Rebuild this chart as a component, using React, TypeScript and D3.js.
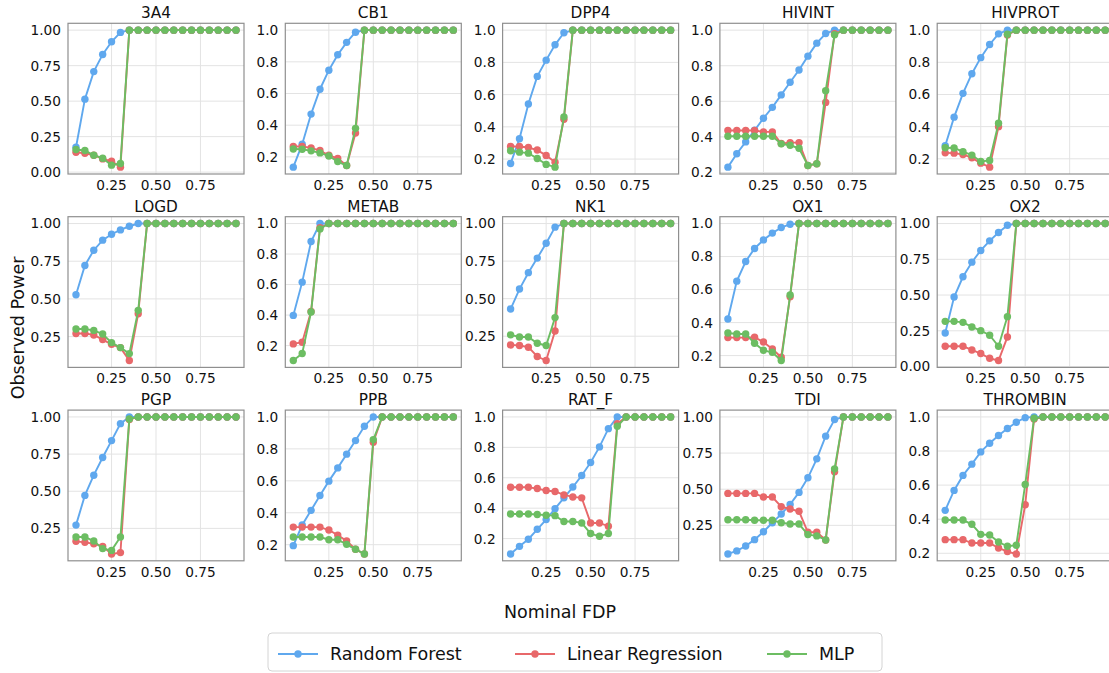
import React from "react";
import * as d3 from "d3";

// Nominal FDP levels shared by every panel
const fdp = [0.05, 0.1, 0.15, 0.2, 0.25, 0.3, 0.35, 0.4, 0.45, 0.5, 0.55, 0.6, 0.65, 0.7, 0.75, 0.8, 0.85, 0.9, 0.95];

const targets = ["3A4", "CB1", "DPP4", "HIVINT", "HIVPROT", "LOGD", "METAB", "NK1", "OX1", "OX2", "PGP", "PPB", "RAT_F", "TDI", "THROMBIN"];

// y tick spacing used by each panel
const yTickStep = [0.25, 0.2, 0.2, 0.2, 0.2, 0.25, 0.2, 0.25, 0.2, 0.25, 0.25, 0.2, 0.2, 0.25, 0.2];

const xTicks = [0.25, 0.5, 0.75];

const methods = ["Random Forest", "Linear Regression", "MLP"];
const methodColors = ["#5fa8ee", "#e8686a", "#6cbd62"];

// Observed power per target (rows follow `targets`), one value per FDP level
const randomForestPower = [
  [0.175, 0.514, 0.708, 0.829, 0.918, 0.984, 1, 1, 1, 1, 1, 1, 1, 1, 1, 1, 1, 1, 1],
  [0.135, 0.28, 0.47, 0.627, 0.747, 0.845, 0.923, 0.987, 1, 1, 1, 1, 1, 1, 1, 1, 1, 1, 1],
  [0.173, 0.326, 0.542, 0.713, 0.814, 0.909, 0.984, 1, 1, 1, 1, 1, 1, 1, 1, 1, 1, 1, 1],
  [0.23, 0.305, 0.372, 0.437, 0.505, 0.566, 0.636, 0.707, 0.776, 0.854, 0.927, 0.981, 1, 1, 1, 1, 1, 1, 1],
  [0.281, 0.459, 0.607, 0.729, 0.829, 0.911, 0.977, 1, 1, 1, 1, 1, 1, 1, 1, 1, 1, 1, 1],
  [0.528, 0.722, 0.823, 0.89, 0.929, 0.958, 0.982, 1, 1, 1, 1, 1, 1, 1, 1, 1, 1, 1, 1],
  [0.398, 0.616, 0.882, 1, 1, 1, 1, 1, 1, 1, 1, 1, 1, 1, 1, 1, 1, 1, 1],
  [0.431, 0.564, 0.673, 0.77, 0.869, 0.976, 1, 1, 1, 1, 1, 1, 1, 1, 1, 1, 1, 1, 1],
  [0.422, 0.651, 0.77, 0.849, 0.901, 0.942, 0.976, 0.996, 1, 1, 1, 1, 1, 1, 1, 1, 1, 1, 1],
  [0.235, 0.486, 0.628, 0.73, 0.812, 0.879, 0.937, 0.988, 1, 1, 1, 1, 1, 1, 1, 1, 1, 1, 1],
  [0.272, 0.472, 0.608, 0.727, 0.841, 0.955, 1, 1, 1, 1, 1, 1, 1, 1, 1, 1, 1, 1, 1],
  [0.194, 0.323, 0.415, 0.508, 0.598, 0.681, 0.767, 0.852, 0.942, 1, 1, 1, 1, 1, 1, 1, 1, 1, 1],
  [0.099, 0.149, 0.196, 0.261, 0.325, 0.397, 0.468, 0.539, 0.615, 0.7, 0.803, 0.923, 1, 1, 1, 1, 1, 1, 1],
  [0.052, 0.073, 0.107, 0.151, 0.206, 0.268, 0.328, 0.395, 0.478, 0.579, 0.71, 0.867, 0.982, 1, 1, 1, 1, 1, 1],
  [0.452, 0.569, 0.657, 0.723, 0.795, 0.846, 0.891, 0.932, 0.969, 0.996, 1, 1, 1, 1, 1, 1, 1, 1, 1],
];

const linearRegressionPower = [
  [0.14, 0.133, 0.119, 0.093, 0.077, 0.035, 1, 1, 1, 1, 1, 1, 1, 1, 1, 1, 1, 1, 1],
  [0.265, 0.265, 0.257, 0.24, 0.21, 0.19, 0.145, 0.35, 1, 1, 1, 1, 1, 1, 1, 1, 1, 1, 1],
  [0.278, 0.278, 0.272, 0.256, 0.223, 0.181, 0.447, 1, 1, 1, 1, 1, 1, 1, 1, 1, 1, 1, 1],
  [0.436, 0.436, 0.436, 0.436, 0.428, 0.428, 0.363, 0.368, 0.368, 0.239, 0.249, 0.594, 0.98, 1, 1, 1, 1, 1, 1],
  [0.237, 0.235, 0.227, 0.206, 0.173, 0.148, 0.4, 0.97, 1, 1, 1, 1, 1, 1, 1, 1, 1, 1, 1],
  [0.27, 0.27, 0.261, 0.23, 0.199, 0.177, 0.091, 0.402, 1, 1, 1, 1, 1, 1, 1, 1, 1, 1, 1],
  [0.211, 0.222, 0.424, 0.972, 1, 1, 1, 1, 1, 1, 1, 1, 1, 1, 1, 1, 1, 1, 1],
  [0.192, 0.188, 0.177, 0.115, 0.088, 0.285, 1, 1, 1, 1, 1, 1, 1, 1, 1, 1, 1, 1, 1],
  [0.309, 0.309, 0.309, 0.311, 0.282, 0.24, 0.19, 0.557, 1, 1, 1, 1, 1, 1, 1, 1, 1, 1, 1],
  [0.142, 0.142, 0.142, 0.116, 0.091, 0.058, 0.042, 0.207, 1, 1, 1, 1, 1, 1, 1, 1, 1, 1, 1],
  [0.163, 0.156, 0.147, 0.129, 0.078, 0.087, 0.982, 1, 1, 1, 1, 1, 1, 1, 1, 1, 1, 1, 1],
  [0.31, 0.31, 0.31, 0.31, 0.292, 0.26, 0.223, 0.171, 0.142, 0.842, 1, 1, 1, 1, 1, 1, 1, 1, 1],
  [0.538, 0.538, 0.538, 0.529, 0.516, 0.51, 0.487, 0.474, 0.468, 0.303, 0.303, 0.281, 0.956, 1, 1, 1, 1, 1, 1],
  [0.471, 0.471, 0.471, 0.471, 0.446, 0.446, 0.379, 0.363, 0.347, 0.202, 0.202, 0.149, 0.62, 1, 1, 1, 1, 1, 1],
  [0.28, 0.28, 0.28, 0.26, 0.26, 0.26, 0.231, 0.21, 0.196, 0.485, 0.988, 1, 1, 1, 1, 1, 1, 1, 1],
];

const mlpPower = [
  [0.159, 0.152, 0.119, 0.098, 0.049, 0.061, 1, 1, 1, 1, 1, 1, 1, 1, 1, 1, 1, 1, 1],
  [0.25, 0.248, 0.238, 0.225, 0.205, 0.17, 0.145, 0.38, 1, 1, 1, 1, 1, 1, 1, 1, 1, 1, 1],
  [0.252, 0.243, 0.237, 0.204, 0.167, 0.15, 0.462, 1, 1, 1, 1, 1, 1, 1, 1, 1, 1, 1, 1],
  [0.404, 0.404, 0.404, 0.404, 0.404, 0.404, 0.361, 0.353, 0.336, 0.239, 0.249, 0.66, 0.974, 1, 1, 1, 1, 1, 1],
  [0.269, 0.267, 0.244, 0.223, 0.183, 0.19, 0.421, 0.975, 1, 1, 1, 1, 1, 1, 1, 1, 1, 1, 1],
  [0.3, 0.3, 0.291, 0.267, 0.21, 0.177, 0.137, 0.424, 1, 1, 1, 1, 1, 1, 1, 1, 1, 1, 1],
  [0.102, 0.148, 0.42, 0.965, 1, 1, 1, 1, 1, 1, 1, 1, 1, 1, 1, 1, 1, 1, 1],
  [0.259, 0.245, 0.245, 0.203, 0.188, 0.374, 1, 1, 1, 1, 1, 1, 1, 1, 1, 1, 1, 1, 1],
  [0.337, 0.331, 0.331, 0.275, 0.232, 0.22, 0.17, 0.567, 1, 1, 1, 1, 1, 1, 1, 1, 1, 1, 1],
  [0.316, 0.316, 0.309, 0.277, 0.251, 0.219, 0.142, 0.349, 1, 1, 1, 1, 1, 1, 1, 1, 1, 1, 1],
  [0.192, 0.192, 0.165, 0.114, 0.102, 0.192, 0.987, 1, 1, 1, 1, 1, 1, 1, 1, 1, 1, 1, 1],
  [0.248, 0.248, 0.248, 0.248, 0.231, 0.231, 0.202, 0.171, 0.142, 0.858, 1, 1, 1, 1, 1, 1, 1, 1, 1],
  [0.362, 0.362, 0.362, 0.358, 0.354, 0.351, 0.312, 0.312, 0.303, 0.233, 0.215, 0.233, 0.939, 1, 1, 1, 1, 1, 1],
  [0.289, 0.289, 0.289, 0.285, 0.285, 0.285, 0.268, 0.259, 0.259, 0.186, 0.177, 0.149, 0.641, 1, 1, 1, 1, 1, 1],
  [0.395, 0.395, 0.395, 0.37, 0.311, 0.307, 0.266, 0.241, 0.247, 0.604, 0.992, 1, 1, 1, 1, 1, 1, 1, 1],
];

const seriesByMethod = [randomForestPower, linearRegressionPower, mlpPower];

const W = 1109;
const H = 673;
const FONT = "DejaVu Sans, Liberation Sans, sans-serif";

const grid = { cols: 5, left0: 68, colStep: 217.3, axW: 176, top0: 23.3, rowStep: 193.4, axH: 150.7 };

function Panel({ idx }: { idx: number }) {
  const col = idx % grid.cols;
  const row = Math.floor(idx / grid.cols);
  const x0 = grid.left0 + col * grid.colStep;
  const y0 = grid.top0 + row * grid.rowStep;

  const all = seriesByMethod.flatMap((s) => s[idx]);
  const yMin = d3.min(all) as number;
  const yMax = d3.max(all) as number;
  const pad = (yMax - yMin) * 0.05;
  const xPad = (fdp[fdp.length - 1] - fdp[0]) * 0.05;

  const x = d3.scaleLinear().domain([fdp[0] - xPad, fdp[fdp.length - 1] + xPad]).range([0, grid.axW]);
  const y = d3.scaleLinear().domain([yMin - pad, yMax + pad]).range([grid.axH, 0]);

  const step = yTickStep[idx];
  const fmt = d3.format(step === 0.25 ? ".2f" : ".1f");
  const [d0, d1] = y.domain();
  const yTicks = d3.range(0, 1 + 1e-9, step).map((v) => +v.toFixed(4)).filter((v) => v >= d0 - 1e-9 && v <= d1 + 1e-9);

  const line = d3
    .line<number>()
    .x((_, i) => x(fdp[i]))
    .y((v) => y(v));

  return (
    <g transform={`translate(${x0},${y0})`}>
      {xTicks.map((t) => (
        <line key={"gx" + t} x1={x(t)} x2={x(t)} y1={0} y2={grid.axH} stroke="#e3e3e3" strokeWidth={1} />
      ))}
      {yTicks.map((t) => (
        <line key={"gy" + t} x1={0} x2={grid.axW} y1={y(t)} y2={y(t)} stroke="#e3e3e3" strokeWidth={1} />
      ))}
      {seriesByMethod.map((s, m) => (
        <g key={m}>
          <path d={line(s[idx]) || ""} fill="none" stroke={methodColors[m]} strokeWidth={1.9} />
          {s[idx].map((v, i) => (
            <circle key={i} cx={x(fdp[i])} cy={y(v)} r={3.7} fill={methodColors[m]} />
          ))}
        </g>
      ))}
      <rect x={0} y={0} width={grid.axW} height={grid.axH} fill="none" stroke="#8f8f8f" strokeWidth={1.2} />
      {yTicks.map((t) => (
        <text key={"ty" + t} x={-7} y={y(t)} dy="0.36em" textAnchor="end" fontSize={13.7} fontWeight={400} fontFamily={FONT} fill="#111">
          {fmt(t)}
        </text>
      ))}
      {xTicks.map((t) => (
        <text key={"tx" + t} x={x(t)} y={grid.axH + 16} textAnchor="middle" fontSize={13.7} fontWeight={400} fontFamily={FONT} fill="#111">
          {d3.format(".2f")(t)}
        </text>
      ))}
      <text x={grid.axW / 2} y={-5} textAnchor="middle" fontSize={15.3} fontWeight={400} fontFamily={FONT} fill="#111">
        {targets[idx]}
      </text>
    </g>
  );
}

function Legend() {
  const bx = 268;
  const by = 633;
  const itemX = [278, 515, 767];
  const cy = by + 21;
  return (
    <g>
      <rect x={bx} y={by} width={614} height={38} rx={4} fill="#fff" stroke="#d4d4d4" strokeWidth={1} />
      {methods.map((name, m) => (
        <g key={name}>
          <line x1={itemX[m]} x2={itemX[m] + 40} y1={cy} y2={cy} stroke={methodColors[m]} strokeWidth={1.9} />
          <circle cx={itemX[m] + 20} cy={cy} r={3.7} fill={methodColors[m]} />
          <text x={itemX[m] + 52} y={cy} dy="0.36em" fontSize={17.5} fontWeight={400} fontFamily={FONT} fill="#111">
            {name}
          </text>
        </g>
      ))}
    </g>
  );
}

export default function App() {
  return (
    <svg
      width={W}
      height={H}
      viewBox={`0 0 ${W} ${H}`}
      style={{ position: "absolute", left: 0, top: 0, background: "#fff" }}
    >
      <rect x={0} y={0} width={W} height={H} fill="#fff" />
      {targets.map((_, i) => (
        <Panel key={i} idx={i} />
      ))}
      <text
        transform={`translate(24,${328}) rotate(-90)`}
        textAnchor="middle"
        fontSize={17.5}
        fontWeight={400}
        fontFamily={FONT}
        fill="#111"
      >
        Observed Power
      </text>
      <text x={560} y={618} textAnchor="middle" fontSize={17.5} fontWeight={400} fontFamily={FONT} fill="#111">
        Nominal FDP
      </text>
      <Legend />
    </svg>
  );
}
